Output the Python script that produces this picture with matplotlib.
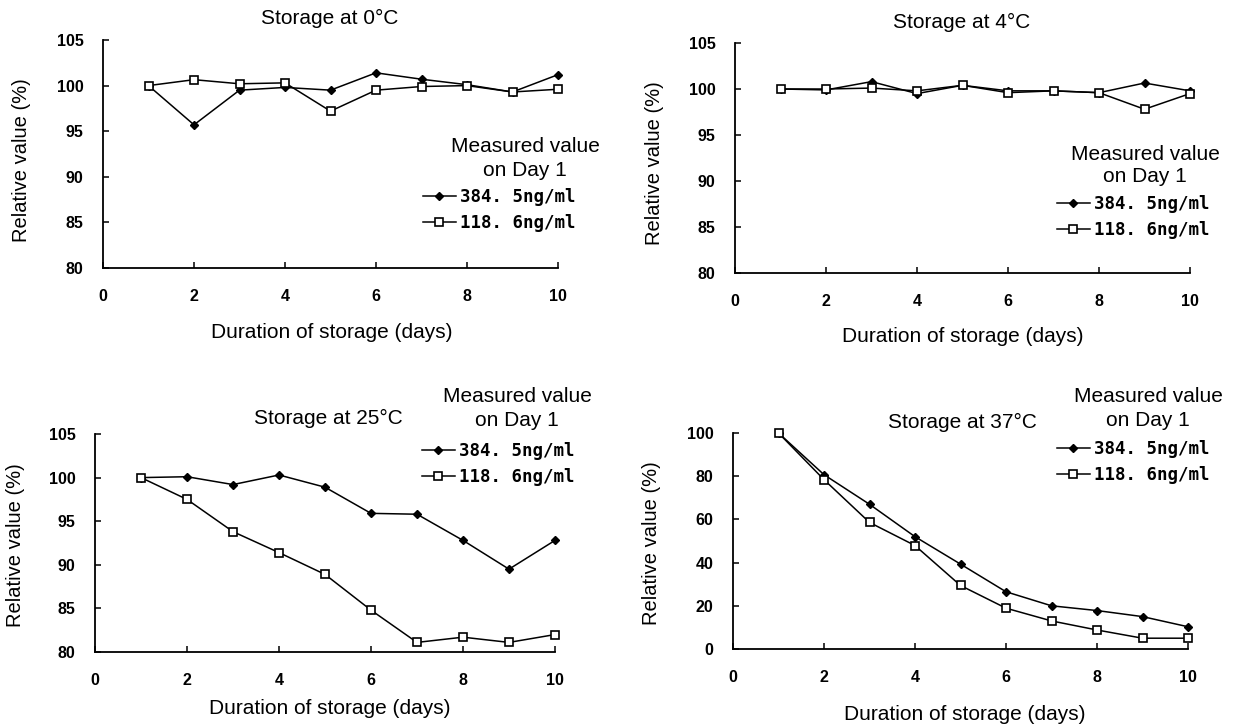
import matplotlib
matplotlib.use("Agg")
import matplotlib.pyplot as plt

plt.rcParams['font.family'] = ['Liberation Sans', 'DejaVu Sans']

days = [1, 2, 3, 4, 5, 6, 7, 8, 9, 10]
series_labels = ["384. 5ng/ml", "118. 6ng/ml"]
titles = ["Storage at 0\u00b0C", "Storage at 4\u00b0C", "Storage at 25\u00b0C", "Storage at 37\u00b0C"]

high_0c = [100, 95.7, 99.5, 99.8, 99.5, 101.4, 100.7, 100.1, 99.3, 101.2]
low_0c = [100, 100.65, 100.2, 100.3, 97.2, 99.5, 99.9, 100.0, 99.3, 99.6]

high_4c = [100, 99.9, 100.8, 99.5, 100.4, 99.8, 99.8, 99.6, 100.65, 99.8]
low_4c = [100, 100.0, 100.1, 99.8, 100.4, 99.6, 99.8, 99.6, 97.8, 99.5]

high_25c = [100, 100.1, 99.2, 100.3, 98.9, 95.9, 95.8, 92.8, 89.5, 92.8]
low_25c = [100, 97.5, 93.8, 91.4, 88.9, 84.8, 81.1, 81.7, 81.1, 82.0]

high_37c = [100, 80.7, 67.0, 52.0, 39.3, 26.5, 20.0, 17.8, 15.0, 10.3]
low_37c = [100, 78.4, 58.6, 47.9, 29.4, 18.9, 13.0, 8.8, 5.0, 5.0]

yticks_low = [80, 85, 90, 95, 100, 105]
yticks_37 = [0, 20, 40, 60, 80, 100]
xticks = [0, 2, 4, 6, 8, 10]

W, H = 1236, 727
fig = plt.figure(figsize=(W / 100, H / 100), dpi=100)

def frac(l, r, t, b):
    return [l / W, 1 - b / H, (r - l) / W, (b - t) / H]

def fx(x):
    return x / W

def fy(y):
    return 1 - y / H

panels = [
    dict(rect=frac(103, 558, 40, 268), hi=high_0c, lo=low_0c, ylim=(80, 105), yt=yticks_low,
         title_xy=(330, 18), legtitle=(525, 147, 170), leg_xy=(423, 188),
         xlab_xy=(332, 333), ylab_xy=(22, 160)),
    dict(rect=frac(735, 1190, 43, 273), hi=high_4c, lo=low_4c, ylim=(80, 105), yt=yticks_low,
         title_xy=(962, 22), legtitle=(1145, 155, 177), leg_xy=(1057, 195),
         xlab_xy=(963, 337), ylab_xy=(655, 163)),
    dict(rect=frac(95, 555, 434, 652), hi=high_25c, lo=low_25c, ylim=(80, 105), yt=yticks_low,
         title_xy=(328, 418), legtitle=(517, 397, 420), leg_xy=(422, 442),
         xlab_xy=(330, 708), ylab_xy=(16, 545)),
    dict(rect=frac(733, 1188, 433, 649), hi=high_37c, lo=low_37c, ylim=(0, 100), yt=yticks_37,
         title_xy=(962, 422), legtitle=(1148, 397, 420), leg_xy=(1057, 440),
         xlab_xy=(965, 715), ylab_xy=(652, 543)),
]

for p, title in zip(panels, titles):
    ax = fig.add_axes(p['rect'])
    l1, = ax.plot(days, p['hi'], color='black', lw=1.1, marker='D', markersize=4.5,
                  markerfacecolor='black', markeredgecolor='black', clip_on=False, zorder=3)
    l2, = ax.plot(days, p['lo'], color='black', lw=1.1, marker='s', markersize=6.3,
                  markerfacecolor='white', markeredgecolor='black', markeredgewidth=1.2,
                  clip_on=False, zorder=4)
    ax.set_xlim(0, 10)
    ax.set_ylim(*p['ylim'])
    ax.set_xticks(xticks)
    ax.set_yticks(p['yt'])
    ax.spines['top'].set_visible(False)
    ax.spines['right'].set_visible(False)
    for s in ('left', 'bottom'):
        ax.spines[s].set_linewidth(1.3)
    ax.tick_params(direction='in', length=4, width=1.1, labelsize=11.5)
    ax.tick_params(axis='y', pad=14)
    ax.tick_params(axis='x', pad=15)
    for lab in ax.get_xticklabels() + ax.get_yticklabels():
        lab.set_fontweight('bold')
    fig.text(fx(p['ylab_xy'][0]), fy(p['ylab_xy'][1]), "Relative value (%)",
             rotation=90, ha='center', va='center', fontsize=14.5)
    fig.text(fx(p['xlab_xy'][0]), fy(p['xlab_xy'][1]), "Duration of storage (days)",
             ha='center', va='center', fontsize=15)
    fig.text(fx(p['title_xy'][0]), fy(p['title_xy'][1]), title, ha='center', va='center',
             fontsize=15)
    lx, ly1, ly2 = p['legtitle']
    fig.text(fx(lx), fy(ly1), "Measured value", ha='center', va='center', fontsize=15)
    fig.text(fx(lx), fy(ly2), "on Day 1", ha='center', va='center', fontsize=15)
    fig.legend([l1, l2], series_labels, loc='upper left',
               bbox_to_anchor=(fx(p['leg_xy'][0]), fy(p['leg_xy'][1])),
               frameon=False, handlelength=1.9, handletextpad=0.25, labelspacing=0.45,
               borderaxespad=0, borderpad=0,
               prop=dict(family='DejaVu Sans Mono', weight='bold', size=12.5))

fig.savefig("out.png", dpi=100)
